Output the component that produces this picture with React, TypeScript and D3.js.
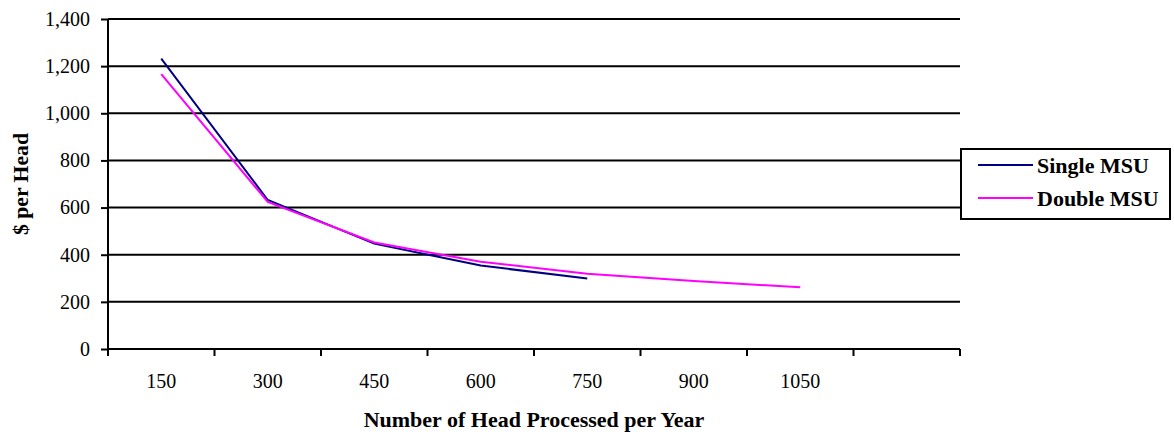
import React, { useEffect, useRef } from 'react'
import * as d3 from 'd3'

const width = 1174
const height = 437

// categories on the x axis (last slot is empty, as in the original)
const categories = ['150', '300', '450', '600', '750', '900', '1050', '']
const singleMSU = [1232, 632, 447, 354, 299]
const doubleMSU = [1166, 624, 452, 370, 319, 288, 262]
const yTicks = [0, 200, 400, 600, 800, 1000, 1200, 1400]

const seriesList = [
  { name: 'Single MSU', values: singleMSU, color: '#000080' },
  { name: 'Double MSU', values: doubleMSU, color: '#FF00FF' },
]

const margin = { top: 19, right: 214, bottom: 88, left: 108 }
const font = "'Liberation Serif', 'Times New Roman', 'DejaVu Serif', serif"
const fontSize = '20px'
const boldSize = '22px'

export default function App() {
  const svgRef = useRef<SVGSVGElement>(null)

  useEffect(() => {
    document.body.style.margin = '0'
    const svg = d3.select(svgRef.current)
    svg.selectAll('*').remove()

    const innerW = width - margin.left - margin.right
    const innerH = height - margin.top - margin.bottom

    const x = d3.scaleBand().domain(categories).range([0, innerW])
    const y = d3.scaleLinear().domain([0, 1400]).range([innerH, 0])

    const g = svg.append('g').attr('transform', `translate(${margin.left},${margin.top})`)

    // horizontal gridlines
    g.selectAll('line.grid')
      .data(yTicks.filter((d) => d > 0))
      .enter()
      .append('line')
      .attr('class', 'grid')
      .attr('x1', 0)
      .attr('x2', innerW)
      .attr('y1', (d) => y(d))
      .attr('y2', (d) => y(d))
      .attr('stroke', '#000')
      .attr('stroke-width', 2)

    // y axis
    const yAxis = g
      .append('g')
      .call(d3.axisLeft(y).tickValues(yTicks).tickSize(7).tickPadding(11).tickFormat(d3.format(',')))
    yAxis.attr('font-family', null)
    yAxis.select('.domain').attr('stroke-width', 2).attr('d', `M0,0V${innerH}`)
    yAxis.selectAll('.tick line').attr('stroke-width', 2)
    yAxis.selectAll('text').style('font-family', font).style('font-size', fontSize).attr('fill', '#000')

    // x axis: ticks at band boundaries, labels at band centres
    const xg = g.append('g').attr('transform', `translate(0,${innerH})`)
    xg.append('line')
      .attr('x1', 0)
      .attr('x2', innerW)
      .attr('stroke', '#000')
      .attr('stroke-width', 2)
    const bounds = categories.map((c) => x(c) as number).concat([innerW])
    xg.selectAll('line.tk')
      .data(bounds)
      .enter()
      .append('line')
      .attr('class', 'tk')
      .attr('x1', (d) => d)
      .attr('x2', (d) => d)
      .attr('y1', 0)
      .attr('y2', 7)
      .attr('stroke', '#000')
      .attr('stroke-width', 2)
    xg.selectAll('text')
      .data(categories)
      .enter()
      .append('text')
      .attr('x', (d) => (x(d) as number) + x.bandwidth() / 2)
      .attr('y', 39)
      .attr('text-anchor', 'middle')
      .style('font-family', font)
      .style('font-size', fontSize)
      .text((d) => d)

    // lines
    const line = d3
      .line<number>()
      .x((_, i) => (x(categories[i]) as number) + x.bandwidth() / 2)
      .y((d) => y(d))
    seriesList.forEach((s) => {
      g.append('path')
        .datum(s.values)
        .attr('fill', 'none')
        .attr('stroke', s.color)
        .attr('stroke-width', 2)
        .attr('d', line)
    })

    // axis titles (the y title is stretched along its length in the original)
    svg
      .append('text')
      .attr('transform', `translate(28,${margin.top + innerH / 2}) rotate(-90)`)
      .attr('text-anchor', 'middle')
      .attr('textLength', 102)
      .attr('lengthAdjust', 'spacingAndGlyphs')
      .style('font-family', font)
      .style('font-weight', 'bold')
      .style('font-size', boldSize)
      .text('$ per Head')
    svg
      .append('text')
      .attr('x', margin.left + innerW / 2)
      .attr('y', 427)
      .attr('text-anchor', 'middle')
      .style('font-family', font)
      .style('font-weight', 'bold')
      .style('font-size', boldSize)
      .text('Number of Head Processed per Year')

    // legend
    const lg = svg.append('g').attr('transform', 'translate(961,149)')
    lg.append('rect')
      .attr('width', 209)
      .attr('height', 70)
      .attr('fill', '#fff')
      .attr('stroke', '#000')
      .attr('stroke-width', 2)
    seriesList.forEach((s, i) => {
      const cy = 16 + i * 33
      lg.append('line')
        .attr('x1', 17)
        .attr('x2', 72)
        .attr('y1', cy)
        .attr('y2', cy)
        .attr('stroke', s.color)
        .attr('stroke-width', 2)
      lg.append('text')
        .attr('x', 76)
        .attr('y', cy + 8)
        .style('font-family', font)
        .style('font-weight', 'bold')
        .style('font-size', boldSize)
        .text(s.name)
    })
  }, [])

  return <svg ref={svgRef} width={width} height={height} style={{ display: 'block', background: '#fff' }} />
}
